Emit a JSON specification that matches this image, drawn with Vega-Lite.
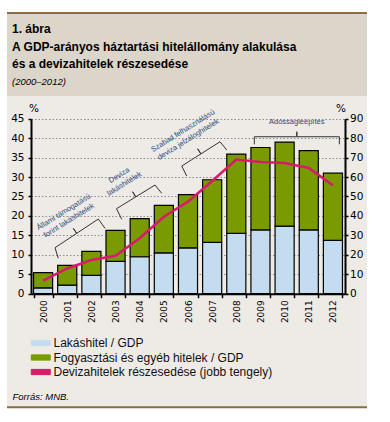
{
  "$schema": "https://vega.github.io/schema/vega-lite/v6.json",
  "width": 360,
  "height": 396,
  "autosize": {"type": "none"},
  "padding": {"left": 7, "top": 12, "right": 23, "bottom": 14},
  "background": "#ffffff",
  "config": {
    "view": {"fill": "#eeebe7", "stroke": null},
    "font": "Liberation Sans"
  },
  "title": {
    "text": ["1. ábra", "A GDP-arányos háztartási hitelállomány alakulása", "és a devizahitelek részesedése"],
    "subtitle": "(2000–2012)",
    "anchor": "start",
    "frame": "group",
    "orient": "top",
    "font": "Liberation Sans",
    "fontSize": 12,
    "fontWeight": "bold",
    "color": "#000000",
    "lineHeight": 17.5,
    "subtitleFont": "Liberation Sans",
    "subtitleFontSize": 9.5,
    "subtitleFontStyle": "italic",
    "subtitleColor": "#000000",
    "subtitlePadding": 6,
    "offset": -76,
    "dx": 5
  },
  "datasets": {
    "loans": [
      {"year": "2000", "series": "Lakáshitel / GDP", "value": 1.5},
      {"year": "2000", "series": "Fogyasztási és egyéb hitelek / GDP", "value": 3.9},
      {"year": "2001", "series": "Lakáshitel / GDP", "value": 2.2},
      {"year": "2001", "series": "Fogyasztási és egyéb hitelek / GDP", "value": 5.1},
      {"year": "2002", "series": "Lakáshitel / GDP", "value": 4.7},
      {"year": "2002", "series": "Fogyasztási és egyéb hitelek / GDP", "value": 6.2},
      {"year": "2003", "series": "Lakáshitel / GDP", "value": 8.3},
      {"year": "2003", "series": "Fogyasztási és egyéb hitelek / GDP", "value": 8.0},
      {"year": "2004", "series": "Lakáshitel / GDP", "value": 9.5},
      {"year": "2004", "series": "Fogyasztási és egyéb hitelek / GDP", "value": 9.8},
      {"year": "2005", "series": "Lakáshitel / GDP", "value": 10.5},
      {"year": "2005", "series": "Fogyasztási és egyéb hitelek / GDP", "value": 12.2},
      {"year": "2006", "series": "Lakáshitel / GDP", "value": 11.8},
      {"year": "2006", "series": "Fogyasztási és egyéb hitelek / GDP", "value": 13.7},
      {"year": "2007", "series": "Lakáshitel / GDP", "value": 13.2},
      {"year": "2007", "series": "Fogyasztási és egyéb hitelek / GDP", "value": 16.1},
      {"year": "2008", "series": "Lakáshitel / GDP", "value": 15.5},
      {"year": "2008", "series": "Fogyasztási és egyéb hitelek / GDP", "value": 20.4},
      {"year": "2009", "series": "Lakáshitel / GDP", "value": 16.4},
      {"year": "2009", "series": "Fogyasztási és egyéb hitelek / GDP", "value": 21.2},
      {"year": "2010", "series": "Lakáshitel / GDP", "value": 17.4},
      {"year": "2010", "series": "Fogyasztási és egyéb hitelek / GDP", "value": 21.6},
      {"year": "2011", "series": "Lakáshitel / GDP", "value": 16.4},
      {"year": "2011", "series": "Fogyasztási és egyéb hitelek / GDP", "value": 20.4},
      {"year": "2012", "series": "Lakáshitel / GDP", "value": 13.7},
      {"year": "2012", "series": "Fogyasztási és egyéb hitelek / GDP", "value": 17.3}
    ],
    "fx": [
      {"year": "2000", "share": 6.7},
      {"year": "2001", "share": 13.0},
      {"year": "2002", "share": 17.3},
      {"year": "2003", "share": 19.5},
      {"year": "2004", "share": 28.5},
      {"year": "2005", "share": 39.6},
      {"year": "2006", "share": 47.3},
      {"year": "2007", "share": 58.0},
      {"year": "2008", "share": 69.0},
      {"year": "2009", "share": 67.7},
      {"year": "2010", "share": 67.2},
      {"year": "2011", "share": 64.6},
      {"year": "2012", "share": 55.8}
    ],
    "notes": [
      {"label": "Állami támogatású\nforint lakáshitelek", "x": 2000.854, "y": 20.93},
      {"label": "Deviza\nlakáshitelek", "x": 2003.152, "y": 30.41},
      {"label": "Szabad felhasználású\ndeviza jelzáloghitelek", "x": 2005.794, "y": 41.83}
    ],
    "brackets": [
      {"b": 1, "i": 0, "x": 2000.630, "y": 9.10},
      {"b": 1, "i": 1, "x": 2000.494, "y": 11.83},
      {"b": 1, "i": 2, "x": 2001.390, "y": 15.51},
      {"b": 1, "i": 3, "x": 2001.254, "y": 16.80},
      {"b": 1, "i": 4, "x": 2001.390, "y": 15.51},
      {"b": 1, "i": 5, "x": 2002.287, "y": 19.20},
      {"b": 1, "i": 6, "x": 2002.564, "y": 16.81},
      {"b": 2, "i": 0, "x": 2003.256, "y": 19.13},
      {"b": 2, "i": 1, "x": 2003.040, "y": 21.85},
      {"b": 2, "i": 2, "x": 2003.837, "y": 24.90},
      {"b": 2, "i": 3, "x": 2003.707, "y": 26.22},
      {"b": 2, "i": 4, "x": 2003.837, "y": 24.90},
      {"b": 2, "i": 5, "x": 2004.635, "y": 27.94},
      {"b": 2, "i": 6, "x": 2004.912, "y": 25.81},
      {"b": 3, "i": 0, "x": 2005.947, "y": 30.26},
      {"b": 3, "i": 1, "x": 2005.740, "y": 32.83},
      {"b": 3, "i": 2, "x": 2006.533, "y": 35.95},
      {"b": 3, "i": 3, "x": 2006.400, "y": 37.26},
      {"b": 3, "i": 4, "x": 2006.533, "y": 35.95},
      {"b": 3, "i": 5, "x": 2007.326, "y": 39.07},
      {"b": 3, "i": 6, "x": 2007.603, "y": 36.94},
      {"b": 4, "i": 0, "x": 2008.746, "y": 38.41},
      {"b": 4, "i": 1, "x": 2008.746, "y": 40.36},
      {"b": 4, "i": 2, "x": 2010.506, "y": 40.36},
      {"b": 4, "i": 3, "x": 2010.506, "y": 41.65},
      {"b": 4, "i": 4, "x": 2010.506, "y": 40.36},
      {"b": 4, "i": 5, "x": 2012.266, "y": 40.36},
      {"b": 4, "i": 6, "x": 2012.266, "y": 38.41}
    ]
  },
  "layer": [
    {
      "data": {"values": [{}]},
      "mark": {"type": "rect", "fill": "#dcd5ca"},
      "encoding": {
        "y": {"datum": 50.82, "type": "quantitative", "scale": {"domain": [0, 45], "range": [281.7, 106.7], "nice": false, "zero": false}, "axis": null},
        "y2": {"datum": 72.42}
      }
    },
    {
      "data": {"values": [{}]},
      "mark": {"type": "rule", "stroke": "#8b6c45", "strokeWidth": 2},
      "encoding": {
        "y": {"datum": 72.2, "type": "quantitative", "scale": {"domain": [0, 45], "range": [281.7, 106.7], "nice": false, "zero": false}, "axis": null}
      }
    },
    {
      "data": {"values": [{}]},
      "mark": {"type": "rule", "stroke": "#8b6c45", "strokeWidth": 2},
      "encoding": {
        "y": {"datum": -29.2, "type": "quantitative", "scale": {"domain": [0, 45], "range": [281.7, 106.7], "nice": false, "zero": false}, "axis": null}
      }
    },
    {
      "data": {"name": "loans"},
      "mark": {"type": "bar", "stroke": "#000000", "strokeWidth": 1.2},
      "encoding": {
        "x": {
          "field": "year", "type": "ordinal",
          "scale": {"range": [24, 338], "paddingInner": 0.21, "paddingOuter": 0.105},
          "axis": {
            "orient": "bottom", "offset": -114.3, "labelAngle": -90,
            "labelFont": "DejaVu Sans", "labelFontSize": 9, "labelColor": "#000000", "labelPadding": 2,
            "tickBand": "extent", "ticks": true, "tickSize": 4, "tickColor": "#000000", "tickWidth": 1.5,
            "domainColor": "#000000", "domainWidth": 2, "grid": false,
            "title": "Forrás: MNB.", "titleX": 5, "titleY": 105.3, "titleAngle": 0, "titleAlign": "left",
            "titleAnchor": "start", "titleBaseline": "alphabetic", "titleFont": "Liberation Sans",
            "titleFontSize": 9.5, "titleFontStyle": "italic", "titleFontWeight": "normal", "titleColor": "#000000"
          }
        },
        "y": {
          "field": "value", "type": "quantitative", "stack": "zero",
          "scale": {"domain": [0, 45], "range": [281.7, 106.7], "nice": false},
          "axis": {
            "orient": "left", "offset": -24, "values": [0, 5, 10, 15, 20, 25, 30, 35, 40, 45],
            "grid": true, "gridColor": "#8c8c8c", "gridDash": [1.5, 2], "gridWidth": 1,
            "domainColor": "#000000", "domainWidth": 2, "tickColor": "#000000", "tickSize": 3, "tickWidth": 1.5,
            "labelFont": "DejaVu Sans", "labelFontSize": 10.5, "labelColor": "#000000", "labelPadding": 4,
            "title": "%", "titleAngle": 0, "titleX": 2.5, "titleY": 99.5, "titleAlign": "center",
            "titleBaseline": "alphabetic", "titleFont": "DejaVu Sans", "titleFontSize": 10.5,
            "titleFontWeight": "normal", "titleColor": "#000000"
          }
        },
        "color": {
          "field": "series", "type": "nominal",
          "scale": {
            "domain": ["Lakáshitel / GDP", "Fogyasztási és egyéb hitelek / GDP", "Devizahitelek részesedése (jobb tengely)"],
            "range": ["#c4dcf0", "#7a9a01", "#d81b6a"]
          },
          "legend": {
            "orient": "none", "legendX": 27.75, "legendY": 325, "direction": "vertical", "title": null,
            "symbolType": "M-2,-0.55L2,-0.55L2,0.55L-2,0.55Z", "symbolSize": 90.25, "symbolStrokeWidth": 1,
            "labelFont": "Liberation Sans", "labelFontSize": 12, "labelColor": "#111111", "labelOffset": 6.75,
            "rowPadding": 2.5, "padding": 0, "labelLimit": 400,
            "encode": {
              "symbols": {
                "update": {
                  "fill": {"scale": "color", "field": "value"},
                  "stroke": [
                    {"test": "datum.value === 'Devizahitelek részesedése (jobb tengely)'", "value": "#d81b6a"},
                    {"value": "#000000"}
                  ],
                  "strokeWidth": {"value": 1},
                  "opacity": {"value": 1}
                }
              }
            }
          }
        },
        "order": {"field": "series", "sort": "descending"}
      }
    },
    {
      "data": {"name": "fx"},
      "mark": {"type": "line", "strokeWidth": 2.6},
      "encoding": {
        "x": {
          "field": "year", "type": "ordinal",
          "scale": {"range": [24, 338], "paddingInner": 0.21, "paddingOuter": 0.105},
          "axis": null
        },
        "y": {
          "field": "share", "type": "quantitative",
          "scale": {"domain": [0, 90], "range": [281.7, 106.7], "nice": false},
          "axis": {
            "orient": "right", "offset": -22, "values": [0, 10, 20, 30, 40, 50, 60, 70, 80, 90],
            "grid": false, "domainColor": "#000000", "domainWidth": 2, "tickColor": "#000000", "tickSize": 3, "tickWidth": 1.5,
            "labelFont": "DejaVu Sans", "labelFontSize": 10.5, "labelColor": "#000000", "labelPadding": 1.5,
            "title": "%", "titleAngle": 0, "titleX": -4.5, "titleY": 99.5, "titleAlign": "center",
            "titleBaseline": "alphabetic", "titleFont": "DejaVu Sans", "titleFontSize": 10.5,
            "titleFontWeight": "normal", "titleColor": "#000000"
          }
        },
        "color": {"datum": "Devizahitelek részesedése (jobb tengely)", "type": "nominal"}
      }
    },
    {
      "data": {"name": "brackets"},
      "mark": {"type": "line", "stroke": "#333333", "strokeWidth": 1},
      "encoding": {
        "x": {"field": "x", "type": "quantitative", "scale": {"domain": [1999.5, 2012.5], "range": [24, 338], "nice": false, "zero": false}, "axis": null},
        "y": {"field": "y", "type": "quantitative", "scale": {"domain": [0, 45], "range": [281.7, 106.7], "nice": false, "zero": false}, "axis": null},
        "detail": {"field": "b", "type": "nominal"},
        "order": {"field": "i", "type": "quantitative"}
      }
    },
    {
      "data": {"name": "notes"},
      "mark": {"type": "text", "angle": 328, "font": "Liberation Sans", "fontSize": 7.5, "lineHeight": 10, "lineBreak": "\n", "fill": "#2b4a80", "align": "center", "baseline": "middle"},
      "encoding": {
        "x": {"field": "x", "type": "quantitative", "scale": {"domain": [1999.5, 2012.5], "range": [24, 338], "nice": false, "zero": false}, "axis": null},
        "y": {"field": "y", "type": "quantitative", "scale": {"domain": [0, 45], "range": [281.7, 106.7], "nice": false, "zero": false}, "axis": null},
        "text": {"field": "label", "type": "nominal"}
      }
    },
    {
      "data": {"values": [{"label": "Adósságleépítés", "x": 2010.502, "y": 44.06}]},
      "mark": {"type": "text", "font": "Liberation Sans", "fontSize": 7.5, "fill": "#2b4a80", "align": "center", "baseline": "middle"},
      "encoding": {
        "x": {"field": "x", "type": "quantitative", "scale": {"domain": [1999.5, 2012.5], "range": [24, 338], "nice": false, "zero": false}, "axis": null},
        "y": {"field": "y", "type": "quantitative", "scale": {"domain": [0, 45], "range": [281.7, 106.7], "nice": false, "zero": false}, "axis": null},
        "text": {"field": "label", "type": "nominal"}
      }
    }
  ],
  "resolve": {"scale": {"x": "independent", "y": "independent"}}
}
